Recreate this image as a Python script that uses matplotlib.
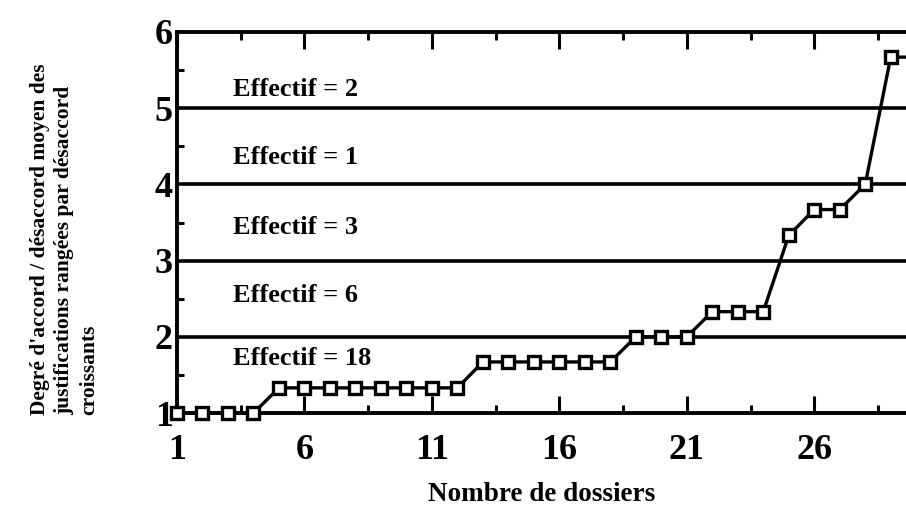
import numpy as np
import matplotlib
matplotlib.use("Agg")
import matplotlib.pyplot as plt
from matplotlib.ticker import FixedLocator

plt.rcParams['font.family'] = ['Liberation Serif', 'DejaVu Serif']
plt.rcParams['font.weight'] = 'bold'

# Dossiers ranked by increasing mean disagreement
dossiers = np.arange(1, 31)
degre_moyen = [1.0, 1.0, 1.0, 1.0,
               1.33, 1.33, 1.33, 1.33, 1.33, 1.33, 1.33, 1.33,
               1.67, 1.67, 1.67, 1.67, 1.67, 1.67,
               2.0, 2.0, 2.0,
               2.33, 2.33, 2.33,
               3.33, 3.67, 3.67,
               4.0,
               5.67, 5.67]

band_edges = [1, 2, 3, 4, 5, 6]
x_tick_labels = ['1', '6', '11', '16', '21', '26']
y_tick_labels = ['1', '2', '3', '4', '5', '6']

# number of dossiers in each band of the scale
effectifs, _ = np.histogram(degre_moyen, bins=band_edges)

fig = plt.figure(figsize=(9.06, 5.16), dpi=100)
ax = fig.add_axes([177 / 906, 1 - 413 / 516, 1 - 177 / 906, (413 - 32) / 516])

for y in band_edges[1:-1]:
    ax.axhline(y, color='black', lw=2.6, zorder=1)

ax.plot(dossiers, degre_moyen, color='black', lw=2.4, marker='s',
        markersize=8.5, markerfacecolor='white', markeredgecolor='black',
        markeredgewidth=2.4, zorder=3, clip_on=False)

# band annotations
label_offsets = [0.72, 0.54, 0.43, 0.35, 0.25]
for lo, off, n in zip(band_edges[:-1], label_offsets, effectifs):
    ax.text(3.2, lo + off, f"Effectif = {n}", fontsize=19, fontweight='bold',
            ha='left', va='center', zorder=2)

ax.set_xlim(1, 29.6)
ax.set_ylim(1, 6)

ax.xaxis.set_major_locator(FixedLocator([int(t) for t in x_tick_labels]))
ax.xaxis.set_minor_locator(FixedLocator(np.arange(3.5, 29.6, 5)))
ax.set_xticklabels(x_tick_labels, fontsize=26, fontweight='bold')
ax.yaxis.set_major_locator(FixedLocator([int(t) for t in y_tick_labels]))
ax.yaxis.set_minor_locator(FixedLocator(np.arange(1.5, 6, 1)))
ax.set_yticklabels(y_tick_labels, fontsize=26, fontweight='bold')

ax.tick_params(axis='x', which='major', direction='in', length=12, width=2.2,
               top=True, bottom=True, pad=15)
ax.tick_params(axis='x', which='minor', direction='in', length=6, width=2.2,
               top=True, bottom=True)
ax.tick_params(axis='y', which='major', direction='in', length=0, pad=3)
ax.tick_params(axis='y', which='minor', direction='in', length=5, width=2.2)

for side in ['left', 'top', 'bottom']:
    ax.spines[side].set_linewidth(2.8)
ax.spines['right'].set_visible(False)

ax.set_xlabel("Nombre de dossiers", fontsize=19.5, fontweight='bold', labelpad=11)
fig.text(30 / 906, 1 - 415 / 516,
         "Degré d'accord / désaccord moyen des\n"
         "justifications rangées par désaccord\n"
         "croissants",
         rotation=90, ha='left', va='bottom', multialignment='left',
         fontsize=15.5, fontweight='bold', linespacing=1.3)

fig.savefig("out.png", dpi=100)
